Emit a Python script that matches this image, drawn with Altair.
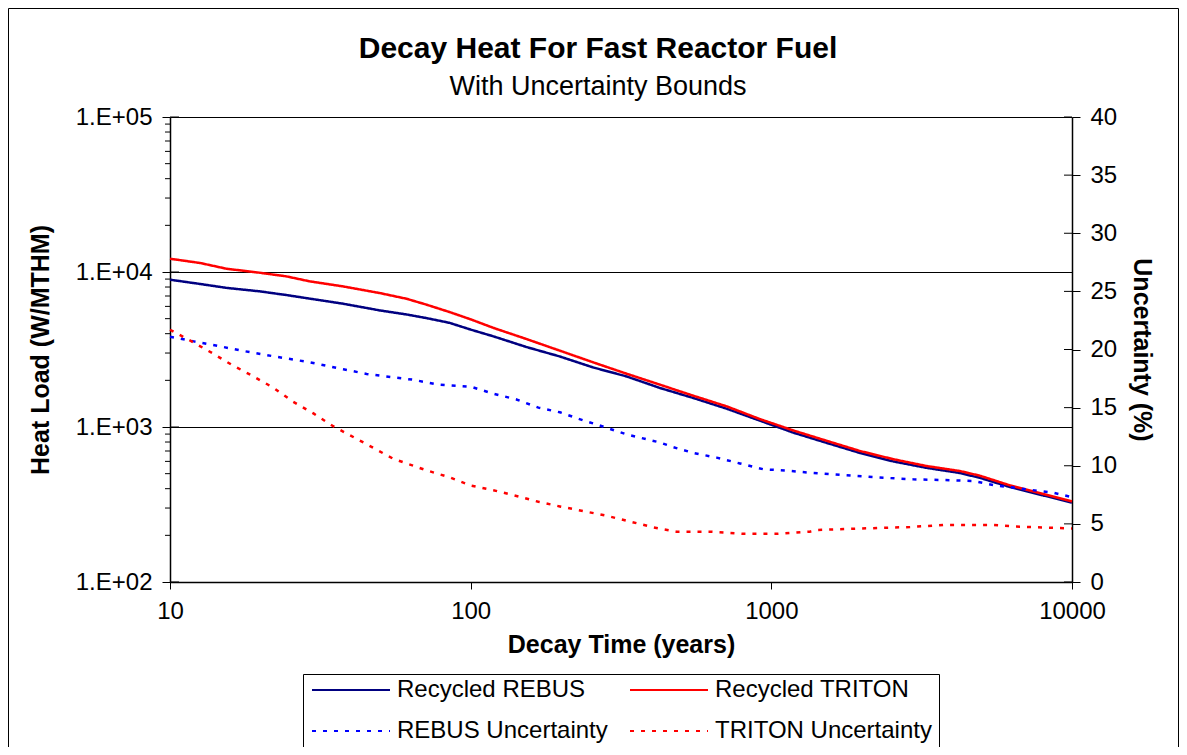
import altair as alt
import pandas as pd

FONT = "Liberation Sans"

title_text = "Decay Heat For Fast Reactor Fuel"
subtitle_text = "With Uncertainty Bounds"
x_title = "Decay Time (years)"
left_title = "Heat Load (W/MTHM)"
right_title = "Uncertainty (%)"

series_names = ["Recycled REBUS", "Recycled TRITON", "REBUS Uncertainty", "TRITON Uncertainty"]
series_colors = ["#000080", "#FF0000", "#0000FF", "#FF0000"]
series_dashes = [[1, 0], [1, 0], [4, 7], [4, 7]]

heat_years = [10, 12.6, 15.4, 19.9, 24.4, 29.2, 37.7, 49.9, 61.2, 71.4, 85, 100, 119, 153,
              198, 256, 330, 426, 550, 710, 916, 1183, 1527, 1972, 2543, 3283, 4237, 4940,
              6218, 8020, 10000]
rebus_heat = [8920, 8370, 7900, 7500, 7100, 6730, 6240, 5650, 5320, 5040, 4700, 4250, 3845, 3285,
              2850, 2420, 2120, 1786, 1539, 1313, 1099, 920, 790, 680, 600, 545, 505, 470,
              410, 362, 325]
triton_heat = [12180, 11430, 10500, 9890, 9370, 8700, 8070, 7310, 6720, 6150, 5520, 4950, 4360, 3700,
               3107, 2610, 2207, 1875, 1592, 1359, 1125, 950, 815, 700, 620, 560, 520, 485,
               420, 370, 331]

rebus_unc_years = [10, 12, 14.5, 17.3, 22.3, 29.2, 37.7, 45.1, 55.3, 64.4, 77.1, 100, 119, 142,
                   168, 198, 237, 259, 330, 426, 472, 550, 658, 786, 940, 1125, 1343, 1734,
                   2240, 2964, 3730, 4690, 5470, 7060, 8660, 10000]
rebus_unc = [21.1, 20.7, 20.3, 19.9, 19.4, 18.9, 18.3, 17.9, 17.6, 17.4, 17.0, 16.8, 16.2, 15.7,
             15.0, 14.6, 13.9, 13.6, 12.7, 12.0, 11.6, 11.1, 10.7, 10.2, 9.7, 9.58, 9.4, 9.2,
             9.0, 8.83, 8.77, 8.69, 8.34, 7.97, 7.68, 7.3]

triton_unc_years = [10, 11.8, 13.8, 16.0, 18.9, 22.1, 25.7, 30.0, 34.9, 44.0, 55.3, 71.4, 85.3,
                    100, 119, 142, 168, 198, 237, 283, 339, 405, 484, 625, 807, 1042, 1343,
                    1415, 1972, 2891, 3730, 5470, 6710, 10000]
triton_unc = [21.7, 20.7, 19.7, 18.7, 17.7, 16.7, 15.5, 14.5, 13.4, 12.0, 10.6, 9.6, 9.0,
              8.3, 7.9, 7.4, 6.9, 6.5, 6.1, 5.7, 5.2, 4.7, 4.33, 4.33, 4.15, 4.15, 4.33,
              4.47, 4.6, 4.73, 4.9, 4.9, 4.76, 4.6]

year_ticks = [10, 100, 1000, 10000]
heat_major = [100, 1000, 10000, 100000]
heat_labels = ["1.E+02", "1.E+03", "1.E+04", "1.E+05"]
heat_minor = [k * 10 ** e for e in (2, 3, 4) for k in range(2, 10)]
unc_ticks = list(range(0, 41, 5))

heat_df = pd.concat([
    pd.DataFrame({"year": heat_years, "value": rebus_heat, "series": series_names[0]}),
    pd.DataFrame({"year": heat_years, "value": triton_heat, "series": series_names[1]}),
])
unc_df = pd.concat([
    pd.DataFrame({"year": rebus_unc_years, "unc": rebus_unc, "series": series_names[2]}),
    pd.DataFrame({"year": triton_unc_years, "unc": triton_unc, "series": series_names[3]}),
])
heat_major_df = pd.DataFrame({"v": heat_major})
heat_minor_df = pd.DataFrame({"v": heat_minor})
unc_tick_df = pd.DataFrame({"v": unc_ticks})
one_df = pd.DataFrame({"a": [0]})

W, H = 902, 465

color_scale = alt.Scale(domain=series_names, range=series_colors)
dash_scale = alt.Scale(domain=series_names, range=series_dashes)
year_scale = alt.Scale(type="log", domain=[10, 10000])
heat_scale = alt.Scale(type="log", domain=[100, 100000])
unc_scale = alt.Scale(domain=[0, 40])

label_expr = "{" + ", ".join(f"'{v}': '{l}'" for v, l in zip(heat_major, heat_labels)) + "}[datum.value]"

x_enc = alt.X("year:Q", scale=year_scale,
              axis=alt.Axis(values=year_ticks, format="d", title=x_title, grid=False,
                            tickSize=7, labelPadding=10, labelFontSize=24, labelFlush=False,
                            titleFontSize=25, titleFontWeight="bold", titlePadding=9))
color_enc = alt.Color("series:N", scale=color_scale, legend=None)
dash_enc = alt.StrokeDash("series:N", scale=dash_scale, legend=None)

heat_lines = alt.Chart(heat_df).mark_line(strokeWidth=2.5).encode(
    x=x_enc,
    y=alt.Y("value:Q", scale=heat_scale,
            axis=alt.Axis(values=heat_major, labelExpr=label_expr,
                          tickSize=8, grid=True, gridColor="black", gridWidth=1,
                          labelPadding=10, labelFontSize=24, title=left_title,
                          titleFontSize=25, titleFontWeight="bold", titlePadding=22)),
    color=color_enc,
    strokeDash=dash_enc,
)

left_inner_ticks = alt.Chart(heat_major_df).mark_rule(color="black", strokeWidth=1).encode(
    x=alt.value(0), x2=alt.value(9),
    y=alt.Y("v:Q", scale=heat_scale, axis=None),
)
left_minor_ticks = alt.Chart(heat_minor_df).mark_rule(color="black", strokeWidth=1).encode(
    x=alt.value(-5), x2=alt.value(0),
    y=alt.Y("v:Q", scale=heat_scale, axis=None),
)

unc_lines = alt.Chart(unc_df).mark_line(strokeWidth=2.5).encode(
    x=x_enc,
    y=alt.Y("unc:Q", scale=unc_scale,
            axis=alt.Axis(orient="right", values=unc_ticks, grid=False, tickSize=8,
                          labelPadding=10, labelFontSize=24, title=right_title,
                          titleFontSize=25, titleFontWeight="bold", titlePadding=12)),
    color=color_enc,
    strokeDash=dash_enc,
)
right_inner_ticks = alt.Chart(unc_tick_df).mark_rule(color="black", strokeWidth=1).encode(
    x=alt.value(W - 8), x2=alt.value(W),
    y=alt.Y("v:Q", scale=unc_scale, axis=None),
)

outer_frame = alt.Chart(one_df).mark_rect(fillOpacity=0, stroke="black", strokeWidth=1).encode(
    x=alt.value(-161.5), x2=alt.value(1008.5), y=alt.value(-108.5), y2=alt.value(640),
)
legend_box = alt.Chart(one_df).mark_rect(fillOpacity=0, stroke="black", strokeWidth=1).encode(
    x=alt.value(133.5), x2=alt.value(769.5), y=alt.value(557.5), y2=alt.value(640),
)

# legend entries laid out in a 2-column grid (layout offsets only)
legend_layers = []
for i, name in enumerate(series_names):
    lx = 142 + (i % 2) * 318
    ly = 573 + (i // 2) * 41
    entry = alt.Chart(pd.DataFrame({"series": [name]}))
    legend_layers.append(entry.mark_rule(strokeWidth=2).encode(
        x=alt.value(lx), x2=alt.value(lx + 78), y=alt.value(ly),
        color=color_enc, strokeDash=dash_enc,
    ))
    legend_layers.append(entry.mark_text(
        align="left", baseline="middle", font=FONT, fontSize=24, color="black"
    ).encode(x=alt.value(lx + 85), y=alt.value(ly), text="series:N"))

title_mark = alt.Chart(one_df).mark_text(
    align="center", baseline="alphabetic", font=FONT, fontSize=30, fontWeight="bold", color="black"
).encode(x=alt.value(428), y=alt.value(-59), text=alt.value(title_text))
subtitle_mark = alt.Chart(one_df).mark_text(
    align="center", baseline="alphabetic", font=FONT, fontSize=27, color="black"
).encode(x=alt.value(428), y=alt.value(-22), text=alt.value(subtitle_text))

chart = alt.layer(
    outer_frame, legend_box, title_mark, subtitle_mark,
    heat_lines, left_inner_ticks, left_minor_ticks,
    unc_lines, right_inner_ticks,
    *legend_layers,
).resolve_scale(
    y="independent"
).properties(
    width=W, height=H,
    autosize=alt.AutoSizeParams(type="none"),
    padding={"left": 162, "top": 109, "right": 107, "bottom": 165},
).configure_view(stroke="transparent").configure_axis(
    labelFont=FONT, titleFont=FONT, labelColor="black", titleColor="black",
    domainColor="black", tickColor="black", domainWidth=1.5,
)

chart.save("out.html", embed_options={"renderer": "svg", "actions": False})
